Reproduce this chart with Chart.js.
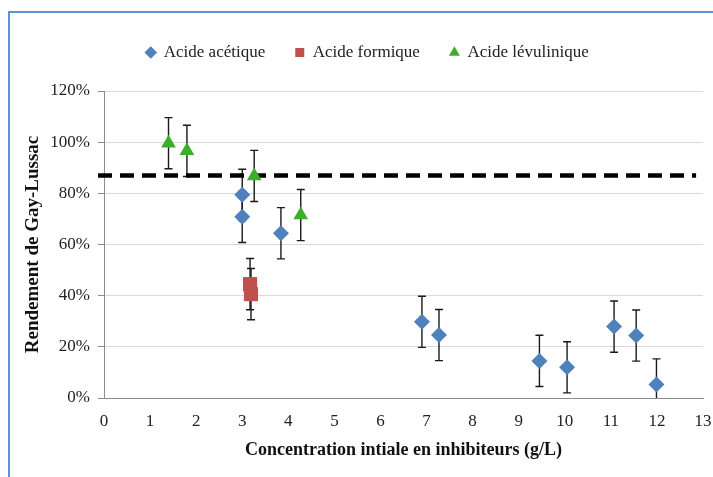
<!DOCTYPE html>
<html>
<head>
<meta charset="utf-8">
<script src="https://cdn.jsdelivr.net/npm/chart.js@4.4.1/dist/chart.umd.min.js"></script>
<style>
  html, body { margin: 0; padding: 0; background: #fff; }
  #wrap { position: relative; width: 713px; height: 477px; overflow: hidden; }
  #frame { position: absolute; left: 8px; top: 11px; width: 800px; height: 600px;
           border-left: 2px solid #5b93d6; border-top: 2px solid #5b93d6; }
  canvas { position: absolute; left: 0; top: 0; }
</style>
</head>
<body>
<div id="wrap">
  <div id="frame"></div>
  <canvas id="c" width="713" height="477"></canvas>
</div>
<script>
// ---- Data ----
const aceticX   = [3.00, 3.00, 3.84, 6.90, 7.27, 9.45, 10.05, 11.07, 11.55, 11.99];
const aceticY   = [79.4, 70.8, 64.4, 29.8, 24.6, 14.5, 12.0, 27.9, 24.4, 5.3];
const aceticErr = [10, 10, 10, 10, 10, 10, 10, 10, 10, 10];

const formicX   = [3.17, 3.19];
const formicY   = [44.5, 40.6];
const formicErr = [10, 10];

const levX      = [1.40, 1.80, 3.26, 4.27];
const levY      = [99.6, 96.6, 86.8, 71.5];
const levErr    = [10, 10, 10, 10];

const thresholdX = [-0.13, 12.85];
const thresholdY = [87, 87];

const yTicks = [0, 20, 40, 60, 80, 100, 120];
const seriesNames = ['Acide acétique', 'Acide formique', 'Acide lévulinique'];
const xTitle = 'Concentration intiale en inhibiteurs (g/L)';
const yTitle = 'Rendement de Gay-Lussac';

const pts = (xs, ys) => xs.map((x, i) => ({ x: x, y: ys[i] }));

const errorBars = {
  id: 'errorBars',
  beforeDatasetsDraw(chart) {
    const { ctx, chartArea, scales } = chart;
    ctx.save();
    ctx.beginPath();
    ctx.rect(chartArea.left, chartArea.top - 40, chartArea.right - chartArea.left, chartArea.bottom - chartArea.top + 40);
    ctx.clip();
    ctx.strokeStyle = '#1a1a1a';
    ctx.lineWidth = 1.4;
    chart.data.datasets.forEach((ds) => {
      if (!ds.errors) return;
      ds.data.forEach((p, i) => {
        const e = ds.errors[i];
        const px = scales.x.getPixelForValue(p.x);
        const yTop = scales.y.getPixelForValue(p.y + e);
        const yBot = scales.y.getPixelForValue(Math.max(0, p.y - e));
        ctx.beginPath();
        ctx.moveTo(px, yTop); ctx.lineTo(px, yBot);
        ctx.moveTo(px - 4, yTop); ctx.lineTo(px + 4, yTop);
        if (p.y - e >= 0) { ctx.moveTo(px - 4, yBot); ctx.lineTo(px + 4, yBot); }
        ctx.stroke();
      });
    });
    ctx.restore();
  }
};

// add extra space between the legend and the plot area
const legendGap = {
  id: 'legendGap',
  afterInit(chart) {
    const lg = chart.legend;
    if (!lg) return;
    const origFit = lg.fit;
    lg.fit = function () { origFit.apply(this, arguments); this.height += 20; };
  }
};

const serif = "'Liberation Serif', 'DejaVu Serif', serif";

new Chart(document.getElementById('c'), {
  type: 'scatter',
  data: {
    datasets: [
      { label: seriesNames[0], data: pts(aceticX, aceticY), errors: aceticErr,
        pointStyle: 'rectRot', pointRadius: 8, backgroundColor: '#4f81bd', borderColor: '#4f81bd', borderWidth: 0 },
      { label: seriesNames[1], data: pts(formicX, formicY), errors: formicErr,
        pointStyle: 'rect', pointRadius: 10, backgroundColor: '#c0504d', borderColor: '#c0504d', borderWidth: 0 },
      { label: seriesNames[2], data: pts(levX, levY), errors: levErr,
        pointStyle: 'triangle', pointRadius: 8.5, backgroundColor: '#3cae2a', borderColor: '#3cae2a', borderWidth: 0 },
      { type: 'line', label: 'seuil', data: pts(thresholdX, thresholdY),
        borderColor: '#000', borderWidth: 4.5, borderDash: [14, 8], borderCapStyle: 'butt',
        pointRadius: 0, fill: false, clip: false }
    ]
  },
  options: {
    responsive: false,
    animation: false,
    layout: { padding: { left: 22, right: 0, top: 14, bottom: 16 } },
    plugins: {
      tooltip: { enabled: false },
      legend: {
        position: 'top',
        labels: {
          usePointStyle: true, boxWidth: 9, boxHeight: 9, padding: 30,
          color: '#222', font: { family: serif, size: 17 },
          filter: (item) => item.datasetIndex < 3
        }
      }
    },
    scales: {
      x: {
        type: 'linear', min: 0, max: 13,
        grid: { display: false, tickLength: 13 },
        border: { color: '#8c8c8c', width: 1 },
        ticks: { stepSize: 1, color: '#222', padding: 0, font: { family: serif, size: 17 } },
        title: { display: true, text: xTitle, color: '#111', font: { family: serif, size: 18, weight: 'bold' }, padding: { top: 0, bottom: 0 } },
        afterFit: (s) => { s.height = 63; }
      },
      y: {
        min: 0, max: 120,
        afterBuildTicks: (s) => { s.ticks = yTicks.map(v => ({ value: v })); },
        grid: { color: '#d9d9d9', lineWidth: 1, tickColor: '#8c8c8c', tickLength: 6 },
        border: { color: '#8c8c8c', width: 1 },
        ticks: { color: '#222', padding: 8, font: { family: serif, size: 17 }, callback: (v) => v + '%' },
        title: { display: true, text: yTitle, color: '#111', font: { family: serif, size: 19, weight: 'bold' }, padding: { top: 0, bottom: 4 } },
        afterFit: (s) => { s.width = 82; }
      }
    }
  },
  plugins: [errorBars, legendGap]
});
</script>
</body>
</html>
